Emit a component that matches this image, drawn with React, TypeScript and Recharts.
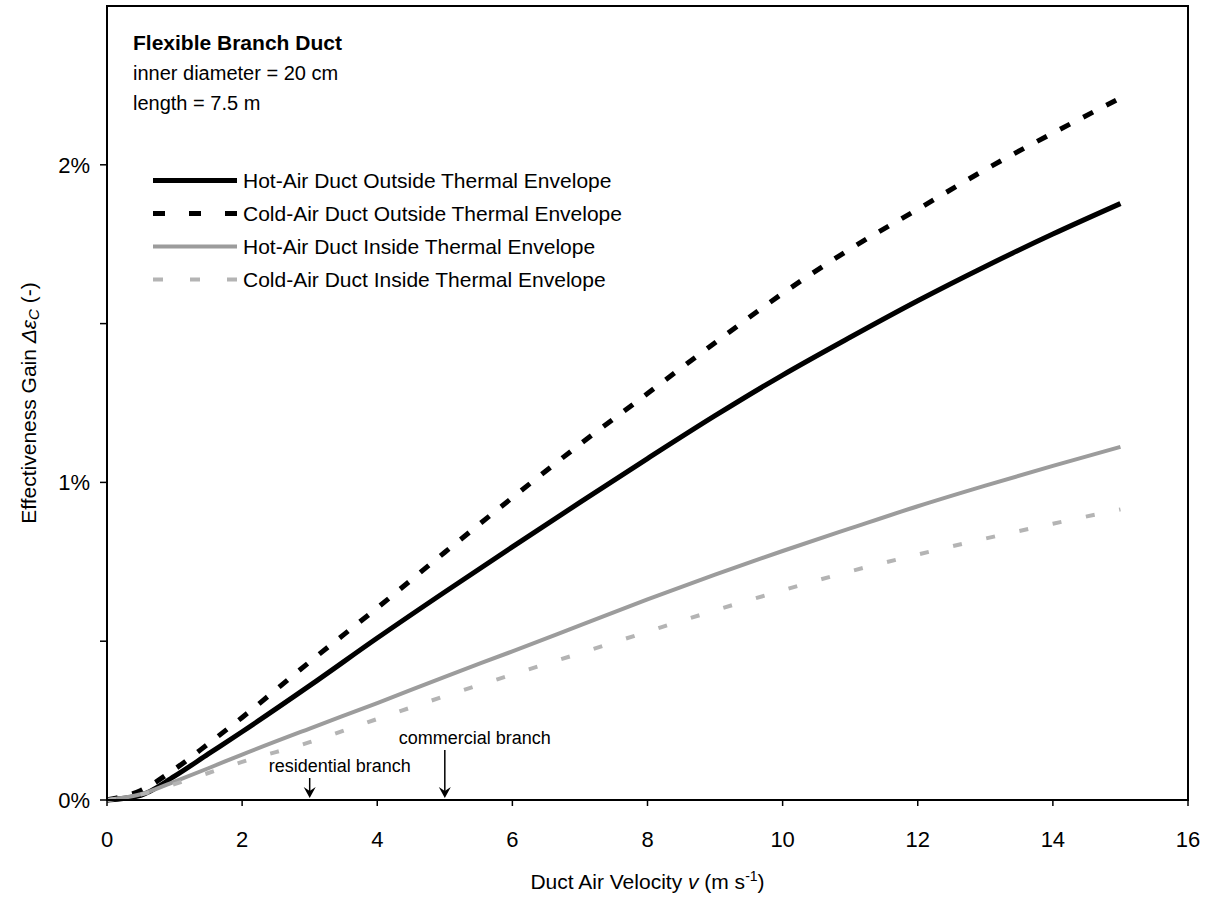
import React from 'react';
import { LineChart, Line, XAxis, YAxis, ReferenceArea, ReferenceDot, Legend } from 'recharts';

const FONT = '"Liberation Sans", Arial, Helvetica, sans-serif';

// duct air velocity (m/s)
const velocity = [0, 0.5, 1, 1.5, 2, 3, 4, 5, 6, 7, 8, 9, 10, 11, 12, 13, 14, 15];
// effectiveness gain, in %
const hotOutside = [0, 0.015, 0.075, 0.145, 0.215, 0.36, 0.51, 0.655, 0.797, 0.937, 1.075, 1.21, 1.338, 1.457, 1.572, 1.68, 1.782, 1.878];
const coldOutside = [0, 0.03, 0.097, 0.177, 0.26, 0.435, 0.605, 0.78, 0.952, 1.12, 1.28, 1.44, 1.595, 1.735, 1.86, 1.985, 2.1, 2.21];
const hotInside = [0, 0.018, 0.058, 0.1, 0.143, 0.225, 0.305, 0.388, 0.468, 0.55, 0.632, 0.71, 0.784, 0.855, 0.925, 0.99, 1.052, 1.112];
const coldInside = [0, 0.017, 0.05, 0.085, 0.12, 0.182, 0.255, 0.327, 0.395, 0.462, 0.53, 0.597, 0.66, 0.72, 0.773, 0.823, 0.87, 0.915];

const xTicks = [0, 2, 4, 6, 8, 10, 12, 14, 16];
const yTicks = [0, 0.5, 1, 1.5, 2];

const seriesNames = [
  'Hot-Air Duct Outside Thermal Envelope',
  'Cold-Air Duct Outside Thermal Envelope',
  'Hot-Air Duct Inside Thermal Envelope',
  'Cold-Air Duct Inside Thermal Envelope',
];

const titleLines = ['inner diameter = 20 cm', 'length = 7.5 m'];

const data = velocity.map((v, i) => ({
  v,
  hotOut: hotOutside[i],
  coldOut: coldOutside[i],
  hotIn: hotInside[i],
  coldIn: coldInside[i],
}));

const lineStyles = [
  { key: 'hotOut', stroke: '#000', width: 5, dash: undefined, legendDash: undefined },
  { key: 'coldOut', stroke: '#000', width: 5, dash: '11 15', legendDash: '12 24' },
  { key: 'hotIn', stroke: '#9c9c9c', width: 4, dash: undefined, legendDash: undefined },
  { key: 'coldIn', stroke: '#b4b4b4', width: 4, dash: '9 25', legendDash: '10 27' },
];

const LegendBlock = () => (
  <div style={{ fontFamily: FONT, color: '#000', fontSize: 20 }}>
    <div style={{ fontWeight: 'bold', fontSize: 21, lineHeight: '30px' }}>Flexible Branch Duct</div>
    {titleLines.map((t) => (
      <div key={t} style={{ lineHeight: '30px' }}>{t}</div>
    ))}
    <div style={{ marginTop: 46, fontSize: 21 }}>
      {lineStyles.map((s, i) => (
        <div key={s.key} style={{ display: 'flex', alignItems: 'center', height: 33 }}>
          <svg width={84} height={33} style={{ marginLeft: 20 }}>
            <line x1={0} y1={16.5} x2={84} y2={16.5} stroke={s.stroke} strokeWidth={s.width} strokeDasharray={s.legendDash} />
          </svg>
          <span style={{ marginLeft: 6, whiteSpace: 'nowrap' }}>{seriesNames[i]}</span>
        </div>
      ))}
    </div>
  </div>
);

const BranchMarker = (props: any) => {
  const { cx, cy, text, rise, dx } = props;
  if (cx == null || cy == null) return null;
  return (
    <g>
      <line x1={cx} y1={cy - rise} x2={cx} y2={cy - 6} stroke="#000" strokeWidth={1.5} />
      <path d={`M${cx - 6},${cy - 13} L${cx},${cy - 2} L${cx + 6},${cy - 13} L${cx},${cy - 9} Z`} fill="#000" />
      <text x={cx + dx} y={cy - rise - 6} textAnchor="middle" fontSize={18} fontFamily={FONT} fill="#000">
        {text}
      </text>
    </g>
  );
};

const XLabel = (props: any) => {
  const vb = props.viewBox || { x: 107, y: 800, width: 1081 };
  return (
    <text x={vb.x + vb.width / 2} y={vb.y + 89} textAnchor="middle" fontSize={21} fontFamily={FONT} fill="#000">
      Duct Air Velocity <tspan fontStyle="italic">v</tspan> (m s
      <tspan fontSize={14} dy={-8}>-1</tspan>
      <tspan dy={8}>)</tspan>
    </text>
  );
};

const YLabel = (props: any) => {
  const vb = props.viewBox || { x: 0, y: 6, height: 794 };
  const x = 28;
  const y = vb.y + vb.height / 2;
  return (
    <text
      x={x}
      y={y}
      transform={`rotate(-90, ${x}, ${y})`}
      textAnchor="middle"
      dominantBaseline="central"
      fontSize={21}
      fontFamily={FONT}
      fill="#000"
    >
      Effectiveness Gain <tspan fontStyle="italic">Δε</tspan>
      <tspan fontStyle="italic" fontSize={15} dy={5}>C</tspan>
      <tspan dy={-5}> (-)</tspan>
    </text>
  );
};

export default function App() {
  return (
    <div style={{ position: 'absolute', left: 0, top: 0, background: '#fff' }}>
      <LineChart width={1214} height={900} data={data} margin={{ top: 6, right: 26, left: 0, bottom: 0 }}>
        <XAxis
          type="number"
          dataKey="v"
          domain={[0, 16]}
          ticks={xTicks}
          interval={0}
          height={100}
          tickSize={6}
          tickMargin={25}
          tick={{ fontSize: 22, fill: '#000', fontFamily: FONT }}
          axisLine={{ stroke: '#000', strokeWidth: 2 }}
          tickLine={{ stroke: '#000', strokeWidth: 1.5 }}
          label={<XLabel />}
        />
        <YAxis
          type="number"
          domain={[0, 2.5]}
          ticks={yTicks}
          interval={0}
          width={107}
          tickSize={7}
          tickMargin={10}
          tickFormatter={(v: number) => (Number.isInteger(v) ? `${v}%` : '')}
          tick={{ fontSize: 22, fill: '#000', fontFamily: FONT }}
          axisLine={{ stroke: '#000', strokeWidth: 2 }}
          tickLine={{ stroke: '#000', strokeWidth: 1.5 }}
          label={<YLabel />}
        />
        <ReferenceArea x1={0} x2={16} y1={0} y2={2.5} fill="none" stroke="#000" strokeWidth={2} ifOverflow="visible" />
        <Legend
          layout="horizontal"
          verticalAlign="middle"
          align="center"
          content={() => <LegendBlock />}
          wrapperStyle={{ left: 133, top: 28, width: 700 }}
        />
        {lineStyles.map((s, i) => (
          <Line
            key={s.key}
            name={seriesNames[i]}
            type="monotone"
            dataKey={s.key}
            stroke={s.stroke}
            strokeWidth={s.width}
            strokeDasharray={s.dash}
            dot={false}
            activeDot={false}
            isAnimationActive={false}
          />
        ))}
        <ReferenceDot
          x={3}
          y={0}
          r={0}
          ifOverflow="visible"
          shape={(p: any) => <BranchMarker {...p} text="residential branch" rise={22} dx={30} />}
        />
        <ReferenceDot
          x={5}
          y={0}
          r={0}
          ifOverflow="visible"
          shape={(p: any) => <BranchMarker {...p} text="commercial branch" rise={50} dx={30} />}
        />
      </LineChart>
    </div>
  );
}
